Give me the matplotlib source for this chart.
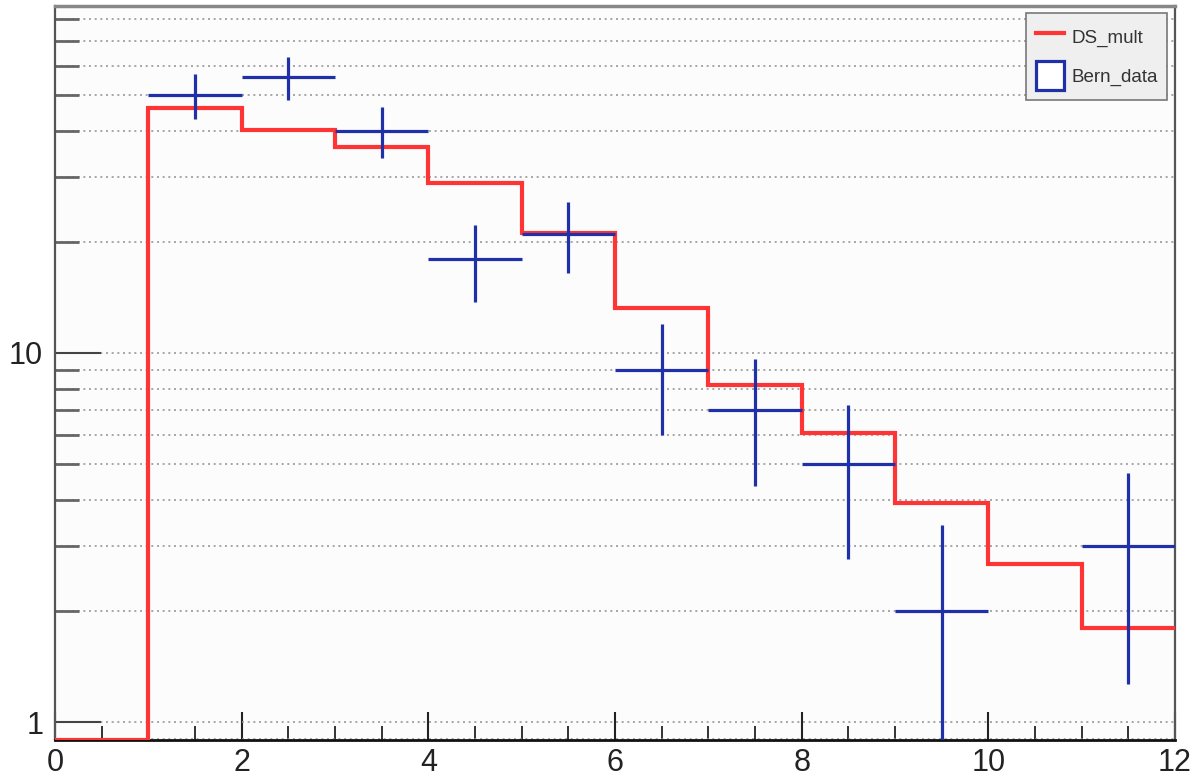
import numpy as np
import matplotlib
matplotlib.use('Agg')
import matplotlib.pyplot as plt
from matplotlib.ticker import LogLocator, FixedLocator, MultipleLocator, NullFormatter
from matplotlib.lines import Line2D
from matplotlib.patches import Patch

plt.rcParams['font.family'] = ['Liberation Sans', 'DejaVu Sans']

# histogram bins
bin_edges = np.arange(0, 13, 1)
ds_mult = [0.0, 46.1, 40.2, 36.2, 28.9, 21.1, 13.2, 8.2, 6.07, 3.92, 2.68, 1.80]
bern_data = [0, 50, 56, 40, 18, 21, 9, 7, 5, 2, 0, 3]

ymin, ymax = 0.894, 87

fig = plt.figure(figsize=(11.91, 7.77), dpi=100)
ax = fig.add_axes([0.0462, 0.0476, 0.9404, 0.9447])
ax.set_facecolor('#fcfcfc')

# red step histogram (empty bin is drawn along the bottom, like ROOT)
vals = np.maximum(np.array(ds_mult), ymin)
ax.stairs(vals, bin_edges, color='#ff3535', lw=3.0, zorder=3, baseline=None)

# data points with poisson errors, skip empty bins
centers = 0.5 * (bin_edges[:-1] + bin_edges[1:])
n = np.array(bern_data, dtype=float)
m = n > 0
ax.errorbar(centers[m], n[m], xerr=0.5, yerr=np.sqrt(n[m]), fmt='none',
            ecolor='#2030a8', elinewidth=2.3, capsize=0, zorder=4)

ax.set_yscale('log')
ax.set_xlim(0, 12)
ax.set_ylim(ymin, ymax)

# ticks, ROOT style (inside)
ax.xaxis.set_major_locator(MultipleLocator(2))
ax.xaxis.set_minor_locator(MultipleLocator(0.5))
ax.yaxis.set_major_locator(FixedLocator([1, 10]))
ax.yaxis.set_minor_locator(LogLocator(base=10, subs=np.arange(2, 10)))
ax.yaxis.set_minor_formatter(NullFormatter())
ax.set_yticklabels(['1', '10'])
ax.tick_params(axis='x', which='major', direction='in', length=20, width=1.5,
               labelsize=22, pad=6, colors='#222222')
ax.tick_params(axis='x', which='minor', direction='in', length=10, width=1.3,
               colors='#222222')
ax.tick_params(axis='y', which='major', direction='in', length=33, width=1.5,
               labelsize=22, pad=8.5, colors='#444444')
ax.tick_params(axis='y', which='minor', direction='in', length=17, width=2,
               colors='#666666')
for lab in ax.get_xticklabels() + ax.get_yticklabels():
    lab.set_color('#222222')

# horizontal dotted grid only
ax.yaxis.grid(True, which='both', linestyle=(0, (1.2, 2.2)), color='#999999', lw=1.2)
ax.xaxis.grid(False)
ax.set_axisbelow(True)

for side in ['left', 'right', 'top', 'bottom']:
    ax.spines[side].set_color('#555555')
    ax.spines[side].set_linewidth(1.6)
ax.spines['top'].set_color('#888888')
ax.spines['top'].set_linewidth(2.5)
ax.spines['bottom'].set_color('#111111')
ax.spines['bottom'].set_linewidth(2.0)

handles = [Line2D([0], [0], color='#ff3535', lw=3),
           Patch(facecolor='white', edgecolor='#2030a8', lw=2.3)]
leg = ax.legend(handles, ['DS_mult', 'Bern_data'], loc='upper right',
                bbox_to_anchor=(0.998, 0.9975), fontsize=13.5, frameon=True,
                fancybox=False, shadow=False, handlelength=1.5, handleheight=2.0,
                labelspacing=0.5, borderpad=0.5, handletextpad=0.4,
                borderaxespad=0.3)
leg.get_frame().set_facecolor('#efefef')
leg.get_frame().set_edgecolor('#777777')
leg.get_frame().set_linewidth(1.2)
leg.get_frame().set_alpha(1)
for t in leg.get_texts():
    t.set_color('#333333')

fig.savefig('out.png', dpi=100, facecolor='white')
